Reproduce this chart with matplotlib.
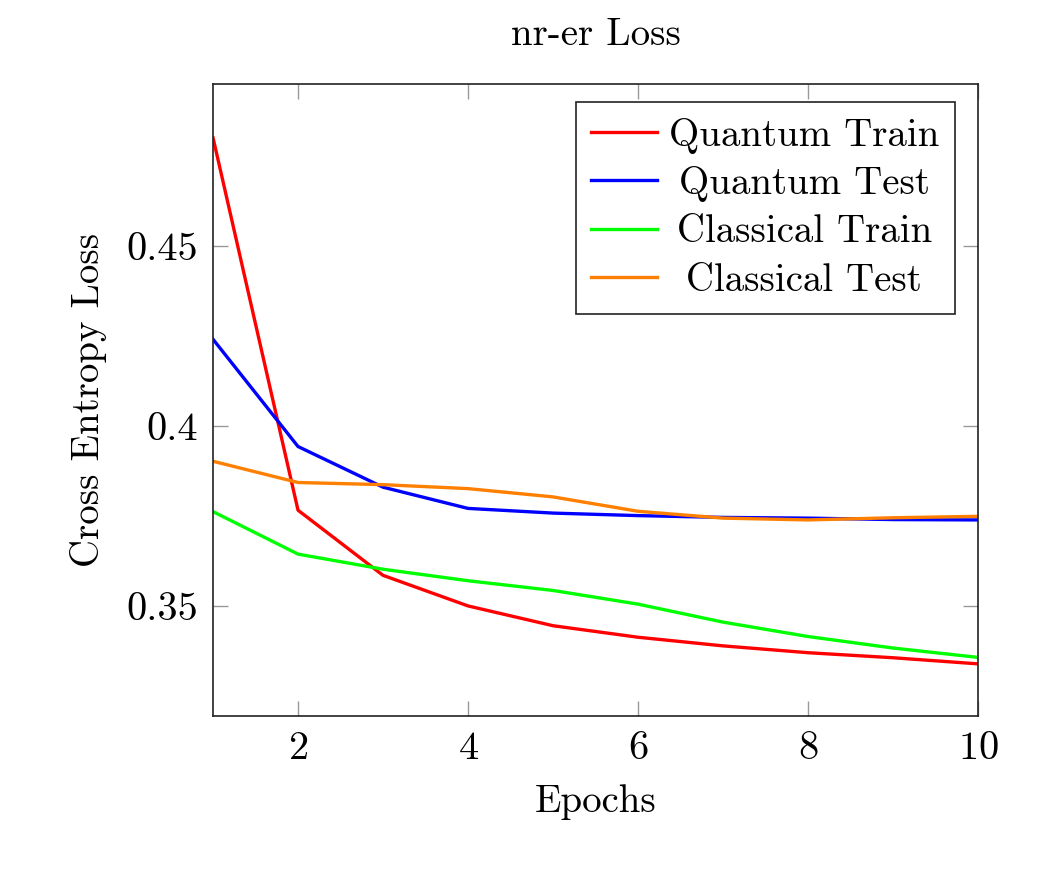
import matplotlib
matplotlib.use("Agg")
import matplotlib.pyplot as plt
from matplotlib.ticker import FuncFormatter

# Loss values per epoch
epochs = [1, 2, 3, 4, 5, 6, 7, 8, 9, 10]
quantum_train = [0.4801, 0.3766, 0.3585, 0.3500, 0.3445, 0.3413, 0.3389, 0.3370, 0.3356, 0.3339]
quantum_test = [0.4241, 0.3943, 0.3830, 0.3771, 0.3758, 0.3751, 0.3746, 0.3744, 0.3740, 0.3739]
classical_train = [0.3762, 0.3644, 0.3602, 0.3570, 0.3543, 0.3505, 0.3455, 0.3415, 0.3383, 0.3357]
classical_test = [0.3902, 0.3843, 0.3837, 0.3826, 0.3803, 0.3763, 0.3744, 0.3739, 0.3745, 0.3749]

plt.rcParams['font.family'] = ['cmr10', 'DejaVu Serif']
plt.rcParams['axes.formatter.use_mathtext'] = True

fig = plt.figure(figsize=(10.63, 8.84), dpi=100)
ax = fig.add_axes([0.2004, 0.190, 0.7196, 0.7148])

lw = 2.4
ax.plot(epochs, quantum_train, color='#ff0000', lw=lw, label='Quantum Train')
ax.plot(epochs, quantum_test, color='#0000ff', lw=lw, label='Quantum Test')
ax.plot(epochs, classical_train, color='#00ff00', lw=lw, label='Classical Train')
ax.plot(epochs, classical_test, color='#ff7f00', lw=lw, label='Classical Test')

ax.set_xlim(1, 10)
ax.set_ylim(0.3194, 0.495)
ax.set_xticks([2, 4, 6, 8, 10])
ax.set_yticks([0.35, 0.40, 0.45])
ax.yaxis.set_major_formatter(FuncFormatter(lambda v, p: '%g' % round(v, 2)))

ax.tick_params(direction='in', length=11, width=1, color='#999999',
               top=True, right=True, labelsize=29, pad=11)
for s in ax.spines.values():
    s.set_linewidth(1.2)
    s.set_color('#222222')

ax.set_title('nr-er Loss', fontsize=28, pad=28)
ax.set_xlabel('Epochs', fontsize=28, labelpad=12)
ax.set_ylabel('Cross Entropy Loss', fontsize=28, labelpad=14)

leg = ax.legend(loc='upper right', bbox_to_anchor=(0.970, 0.9715), fontsize=28,
                frameon=True, fancybox=False, edgecolor='#222222', borderaxespad=0,
                handlelength=1.7, handletextpad=0.3, borderpad=0.4, labelspacing=0.32)
leg.get_frame().set_linewidth(1.2)
leg.get_frame().set_alpha(1)

# centre the legend labels like pgfplots does
fig.canvas.draw()
texts = leg.get_texts()
widths = [t.get_window_extent().width for t in texts]
for t, w in zip(texts, widths):
    t.set_x((max(widths) - w) / 2)

fig.savefig('out.png', dpi=100)
